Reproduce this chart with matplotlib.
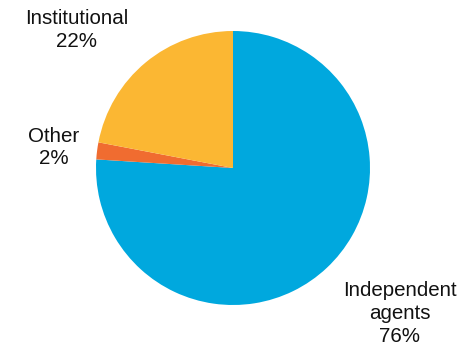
import numpy as np
import matplotlib.pyplot as plt

# Share of business by channel
categories = ["Independent\nagents", "Other", "Institutional"]
shares = [76, 2, 22]
colors = ["#00A8DE", "#F06C30", "#FBB733"]

W, H = 464, 348
fig = plt.figure(figsize=(W / 100, H / 100), dpi=100)
ax = fig.add_axes([0, 0, 1, 1])

cx, cy, r = 233, 180, 137
wedges, _ = ax.pie(shares, colors=colors, startangle=90, counterclock=False,
                   center=(cx, cy), radius=r, frame=True,
                   wedgeprops=dict(linewidth=0))
ax.set_xlim(0, W)
ax.set_ylim(0, H)
ax.set_aspect("equal")
ax.axis("off")

# label placement: (angle in degrees, distance in radii)
label_pos = [(-41.1, 1.617), (173.5, 1.319), (138.6, 1.523)]
for name, val, (ang, d) in zip(categories, shares, label_pos):
    a = np.deg2rad(ang)
    ax.text(cx + d * r * np.cos(a), cy + d * r * np.sin(a), f"{name}\n{val}%",
            ha="center", va="center", fontsize=14.8, family="Liberation Sans",
            linespacing=1.25, color="#111111")

fig.savefig("out.png", dpi=100)
